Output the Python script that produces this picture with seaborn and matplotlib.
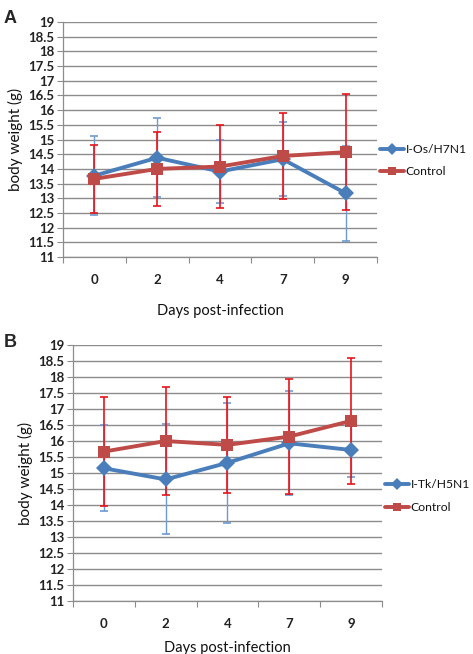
import numpy as np
import pandas as pd
import matplotlib
matplotlib.use("Agg")
import matplotlib.pyplot as plt
import seaborn as sns

# Days post-infection (categorical axis)
days = ["0", "2", "4", "7", "9"]

# Panel A: I-Os/H7N1 vs control
a_infected = [13.77, 14.38, 13.91, 14.33, 13.17]
a_infected_sd = [1.35, 1.35, 1.06, 1.25, 1.62]
a_control = [13.66, 14.0, 14.08, 14.44, 14.57]
a_control_sd = [1.15, 1.25, 1.40, 1.45, 1.98]

# Panel B: I-Tk/H5N1 vs control
b_infected = [15.15, 14.80, 15.32, 15.93, 15.72]
b_infected_sd = [1.35, 1.72, 1.87, 1.63, 0.84]
b_control = [15.67, 16.0, 15.88, 16.14, 16.63]
b_control_sd = [1.70, 1.69, 1.50, 1.81, 1.96]

BLUE = "#4a7ebb"
BLUE_ERR = "#6d9bd1"
RED = "#be4b48"
RED_ERR = "#e8141b"
GRID = "#8c8c8c"

sns.set_theme(style="white")
plt.rcParams["font.family"] = ["Lato", "DejaVu Sans"]


def draw_panel(ax, infected, infected_sd, control, control_sd, inf_label,
               xpad):
    df = pd.DataFrame({
        "day": days * 2,
        "weight": infected + control,
        "group": [inf_label] * len(days) + ["Control"] * len(days),
    })
    sns.lineplot(data=df, x="day", y="weight", hue="group", style="group",
                 palette={inf_label: BLUE, "Control": RED},
                 markers={inf_label: "D", "Control": "s"},
                 dashes=False, linewidth=2.8, markersize=8.5,
                 markeredgewidth=0, ax=ax, zorder=4, sort=False)
    x = np.arange(len(days))
    ax.errorbar(x, infected, yerr=infected_sd, fmt="none", ecolor=BLUE_ERR,
                elinewidth=1.0, capsize=3, capthick=1.2, zorder=3)
    ax.errorbar(x, control, yerr=control_sd, fmt="none", ecolor=RED_ERR,
                elinewidth=1.2, capsize=3, capthick=1.2, zorder=3)

    ax.set_ylim(11, 19)
    ax.set_yticks(np.arange(11, 19.01, 0.5))
    ax.set_yticklabels([f"{v:g}" for v in np.arange(11, 19.01, 0.5)],
                       fontsize=9.5, fontweight="bold", color="#222222")
    ax.set_xlim(-0.5, len(days) - 0.5)
    ax.set_xticks(np.arange(-0.5, len(days)), labels=[""] * (len(days) + 1))
    ax.set_xticks(x, labels=days, minor=True)
    ax.tick_params(axis="x", which="major", direction="out", length=4,
                   width=0.8, color=GRID, bottom=True)
    ax.tick_params(axis="x", which="minor", length=0, pad=12,
                   labelsize=9.5, labelcolor="#222222")
    for lab in ax.get_xticklabels(minor=True):
        lab.set_fontweight("bold")
    ax.tick_params(axis="y", direction="out", length=4, width=0.8,
                   color=GRID, left=True, pad=2)
    ax.yaxis.grid(True, color=GRID, linewidth=1.0)
    ax.set_axisbelow(True)
    for side in ["top", "right"]:
        ax.spines[side].set_visible(False)
    for side in ["left", "bottom"]:
        ax.spines[side].set_color(GRID)
        ax.spines[side].set_linewidth(0.9)

    ax.set_xlabel("Days post-infection", fontsize=10.5, labelpad=xpad,
                  color="#111111")
    ax.set_ylabel("body weight (g)", fontsize=11, labelpad=4,
                  color="#111111")
    leg = ax.legend(loc="center left", bbox_to_anchor=(1.0, 0.41),
                    frameon=False, fontsize=8.7, handlelength=2.0,
                    handletextpad=0.12, labelspacing=0.95,
                    borderaxespad=0.15, borderpad=0.1)
    for h in leg.legend_handles:
        h.set_markersize(6)
    for t in leg.get_texts():
        t.set_color("#111111")


fig = plt.figure(figsize=(4.73, 6.54), dpi=100)
ax_a = fig.add_axes([0.1332, 0.607, 0.6638, 0.3593])
ax_b = fig.add_axes([0.1543, 0.081, 0.6533, 0.3914])

draw_panel(ax_a, a_infected, a_infected_sd, a_control, a_control_sd,
           "I-Os/H7N1", 13)
draw_panel(ax_b, b_infected, b_infected_sd, b_control, b_control_sd,
           "I-Tk/H5N1", 8)

fig.text(0.008, 0.984, "A", fontsize=13, fontweight="bold",
         family=["Liberation Sans", "DejaVu Sans"], va="top")
fig.text(0.008, 0.49, "B", fontsize=13, fontweight="bold",
         family=["Liberation Sans", "DejaVu Sans"], va="top")

fig.savefig("out.png", dpi=100)
